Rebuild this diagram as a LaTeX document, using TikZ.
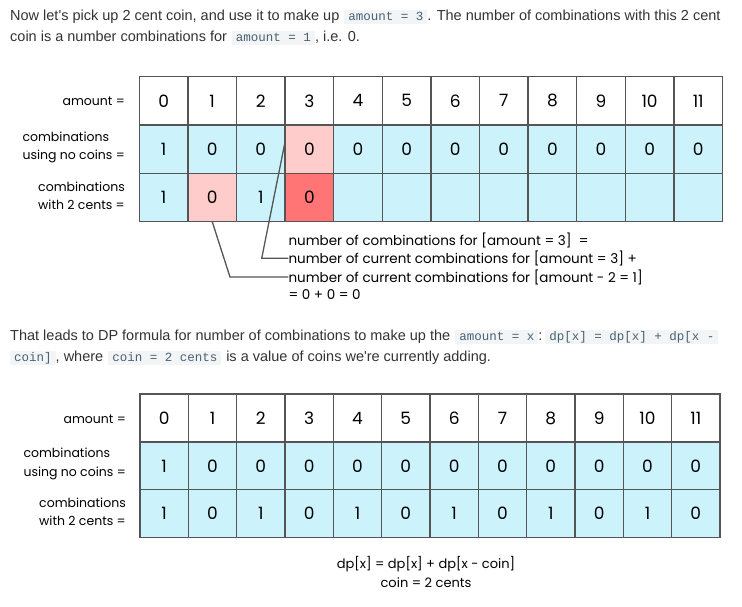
\documentclass[tikz,border=0pt]{standalone}
\usepackage{fontspec}
\setmainfont{Liberation Sans}
\newfontfamily\diag{Poppins}
\newfontfamily\monof{Liberation Mono}
\definecolor{bodyc}{HTML}{333333}
\definecolor{codebg}{HTML}{F3F4F5}
\definecolor{codefg}{HTML}{476272}
\definecolor{cellline}{HTML}{555555}
\definecolor{cyanc}{HTML}{CCF3FB}
\definecolor{pinkc}{HTML}{FFCCCC}
\definecolor{redc}{HTML}{FF7575}
\newcommand\code[1]{{\setlength{\fboxsep}{0pt}\colorbox{codebg}{\hspace{4pt}\textcolor{codefg}{\monof\fontsize{12.5}{14}\selectfont\strut #1}\hspace{4pt}}}}
\begin{document}
\begin{tikzpicture}[x=1pt,y=-1pt,
  body/.style={anchor=base west, inner sep=0pt, text=bodyc, font=\fontsize{14.5}{21}\selectfont},
  cellA/.style={draw=cellline, line width=1.3pt, minimum width=48.6pt, minimum height=48.3pt, inner sep=0pt, outer sep=0pt, font=\diag\fontsize{17}{19}\selectfont},
  cellB/.style={draw=cellline, line width=1.3pt, minimum width=48.33pt, minimum height=47.9pt, inner sep=0pt, outer sep=0pt, font=\diag\fontsize{17}{19}\selectfont},
  rowlab/.style={anchor=east, align=left, inner sep=0pt, font=\diag\fontsize{12.5}{18.5}\selectfont},
  note/.style={anchor=west, inner sep=0pt, font=\diag\fontsize{13.5}{15}\selectfont},
  conn/.style={draw=cellline, line width=1.3pt}]
\useasboundingbox[fill=white] (0,0) rectangle (742,606);

% paragraph 1
\node[body] (p1) at (10,20) {Now let\textquotesingle s pick up 2 cent coin, and use it to make up\hspace{5pt}\code{amount = 3}. The number of combinations with this 2 cent};
\node[body] (p2) at (10,41) {coin is a number combinations for\hspace{5pt}\code{amount = 1}, i.e. 0.};

% table 1
\node[rowlab] (l11) at (125,101) {amount =};
\node[rowlab] (l12) at (125,147.3) {combinations\\using no coins =};
\node[rowlab] (l13) at (125,196) {combinations\\with 2 cents =};
\foreach \i in {0,...,11}
  \node[cellA, fill=white] (a-1-\i) at ({139.3+48.6*(\i+0.5)}, 100.85) {\i};
\foreach \v/\f [count=\j from 0] in {1/cyanc,0/cyanc,0/cyanc,0/pinkc,0/cyanc,0/cyanc,0/cyanc,0/cyanc,0/cyanc,0/cyanc,0/cyanc,0/cyanc}
  \node[cellA, fill=\f] (a-2-\j) at ({139.3+48.6*(\j+0.5)}, 149.15) {\v};
\foreach \v/\f [count=\j from 0] in {1/cyanc,0/pinkc,1/cyanc,0/redc,{}/cyanc,{}/cyanc,{}/cyanc,{}/cyanc,{}/cyanc,{}/cyanc,{}/cyanc,{}/cyanc}
  \node[cellA, fill=\f] (a-3-\j) at ({139.3+48.6*(\j+0.5)}, 197.45) {\v};

\node[note] (t1) at (288.3,240) {number of combinations for [amount = 3]\ \ =};
\node[note] (t2) at (288.3,258.3) {number of current combinations for [amount = 3] +};
\node[note] (t3) at (288.3,277) {number of current combinations for [amount - 2 = 1]};
\node[note] (t4) at (288.3,294.5) {= 0 + 0 = 0};

\coordinate (k1) at (230,0);
\coordinate (k2) at (261.7,0);
\draw[conn] (a-3-1.south) -- (k1 |- t3.west) -- (t3.west);
\draw[conn] ([yshift=7.5pt]a-2-3.west) -- (k2 |- t2.west) -- (t2.west);

% paragraph 2
\node[body] (p3) at (10,340) {That leads to DP formula for number of combinations to make up the\hspace{5pt}\code{amount = x}:\hspace{3pt}\code{dp[x] = dp[x] + dp[x -}};
\node[body] (p4) at (10,361) {\code{coin]}, where\hspace{5pt}\code{coin = 2 cents}\hspace{5pt}is a value of coins we\textquotesingle re currently adding.};

% table 2
\node[rowlab] (l21) at (126,419) {amount =};
\node[rowlab] (l22) at (126,464) {combinations\\using no coins =};
\node[rowlab] (l23) at (126,512) {combinations\\with 2 cents =};
\foreach \i in {0,...,11}
  \node[cellB, fill=white] (b-1-\i) at ({140+48.33*(\i+0.5)}, 417.95) {\i};
\foreach \v [count=\j from 0] in {1,0,0,0,0,0,0,0,0,0,0,0}
  \node[cellB, fill=cyanc] (b-2-\j) at ({140+48.33*(\j+0.5)}, 465.85) {\v};
\foreach \v [count=\j from 0] in {1,0,1,0,1,0,1,0,1,0,1,0}
  \node[cellB, fill=cyanc] (b-3-\j) at ({140+48.33*(\j+0.5)}, 513.75) {\v};

\node[align=center, inner sep=0pt, font=\diag\fontsize{13}{18.5}\selectfont] (f1) at (426,572) {dp[x] = dp[x] + dp[x - coin]\\coin = 2 cents};
\end{tikzpicture}
\end{document}
